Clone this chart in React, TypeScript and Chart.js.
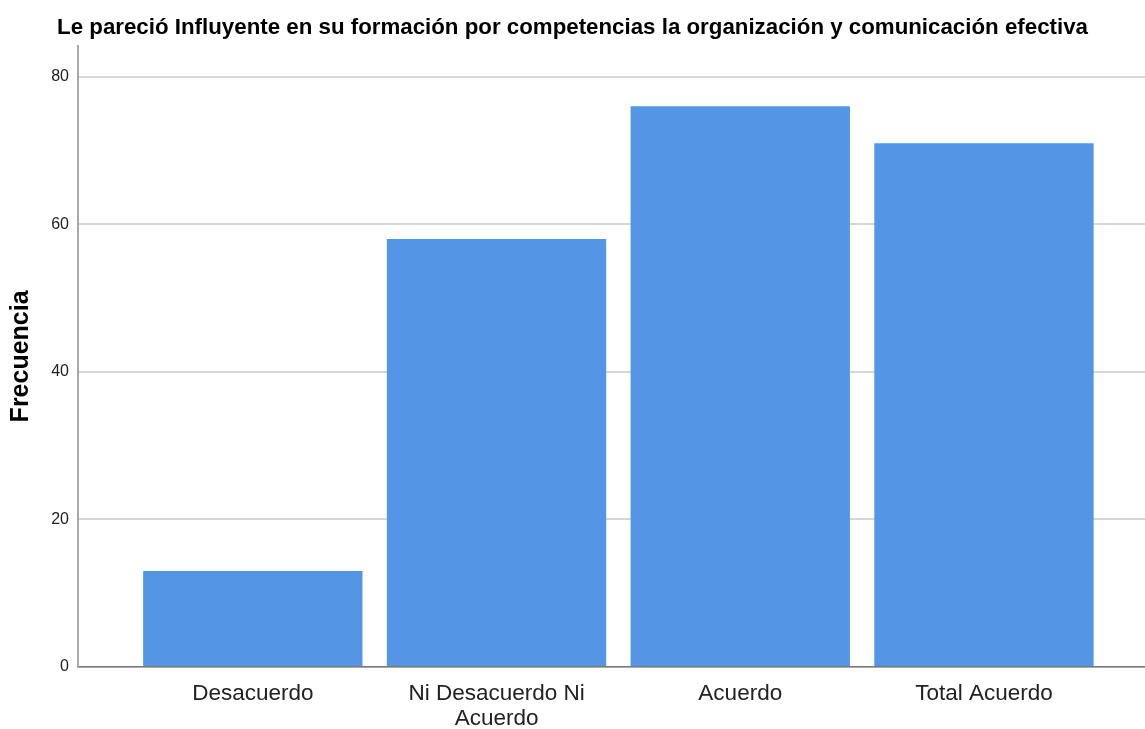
import React, { useEffect, useRef } from "react";
import { Chart, registerables } from "chart.js";

Chart.register(...registerables);

const chartTitle =
  "Le pareció Influyente en su formación por competencias la organización y comunicación efectiva";
const categories: (string | string[])[] = [
  "Desacuerdo",
  ["Ni Desacuerdo Ni", "Acuerdo"],
  "Acuerdo",
  "Total Acuerdo",
];
const frequencies = [13, 58, 76, 71];
const yTicks = [0, 20, 40, 60, 80];
const yAxisTitle = "Frecuencia";

const SANS = "'Liberation Sans', Arial, sans-serif";

export default function App() {
  const ref = useRef<HTMLCanvasElement | null>(null);

  useEffect(() => {
    document.body.style.margin = "0";
    const canvas = ref.current;
    if (!canvas) return;
    const points = frequencies.map((v, i) => ({ x: i + 1, y: v }));
    const chart = new Chart(canvas, {
      type: "bar",
      data: {
        datasets: [
          {
            data: points,
            backgroundColor: "rgb(85,149,229)",
            borderWidth: 0,
            barPercentage: 0.9,
            categoryPercentage: 1,
          },
        ],
      },
      options: {
        animation: false,
        responsive: false,
        devicePixelRatio: 1,
        layout: { padding: 0 },
        plugins: {
          legend: { display: false },
          tooltip: { enabled: false },
          title: {
            display: true,
            text: chartTitle,
            color: "#000",
            font: { family: SANS, size: 22.3, weight: "bold", lineHeight: 1.2 },
            padding: { top: 14, bottom: 5 },
          },
        },
        scales: {
          x: {
            type: "linear",
            min: 0.2827,
            max: 4.6607,
            offset: false,
            grid: { display: false, drawTicks: false },
            border: { display: true, color: "#7a7a7a", width: 1.5 },
            afterFit: (scale: any) => {
              scale.height = 62;
            },
            ticks: {
              stepSize: 1,
              includeBounds: false,
              autoSkip: false,
              maxRotation: 0,
              minRotation: 0,
              padding: 14,
              color: "#222",
              font: { family: SANS, size: 22.5, lineHeight: "25px" },
              callback: (v: any) => {
                const i = Math.round(Number(v)) - 1;
                if (Math.abs(Number(v) - (i + 1)) > 1e-6) return "";
                return categories[i] ?? "";
              },
            },
          },
          y: {
            type: "linear",
            min: 0,
            max: 84.2,
            grid: { color: "#d6d6d6", lineWidth: 2, drawTicks: false },
            border: { display: true, color: "#a8a8a8", width: 2 },
            afterFit: (scale: any) => {
              scale.width = 78;
            },
            title: {
              display: true,
              text: yAxisTitle,
              color: "#000",
              font: { family: SANS, size: 25, weight: "bold", lineHeight: 1.2 },
              padding: { top: 6, bottom: 0 },
            },
            ticks: {
              stepSize: 20,
              includeBounds: false,
              padding: 9,
              color: "#222",
              font: { family: SANS, size: 16 },
              callback: (v: any) => (yTicks.includes(Number(v)) ? String(v) : ""),
            },
          },
        },
      },
    });
    return () => chart.destroy();
  }, []);

  return (
    <div style={{ width: 1145, height: 729, background: "#fff" }}>
      <canvas ref={ref} width={1145} height={729} style={{ display: "block" }} />
    </div>
  );
}
